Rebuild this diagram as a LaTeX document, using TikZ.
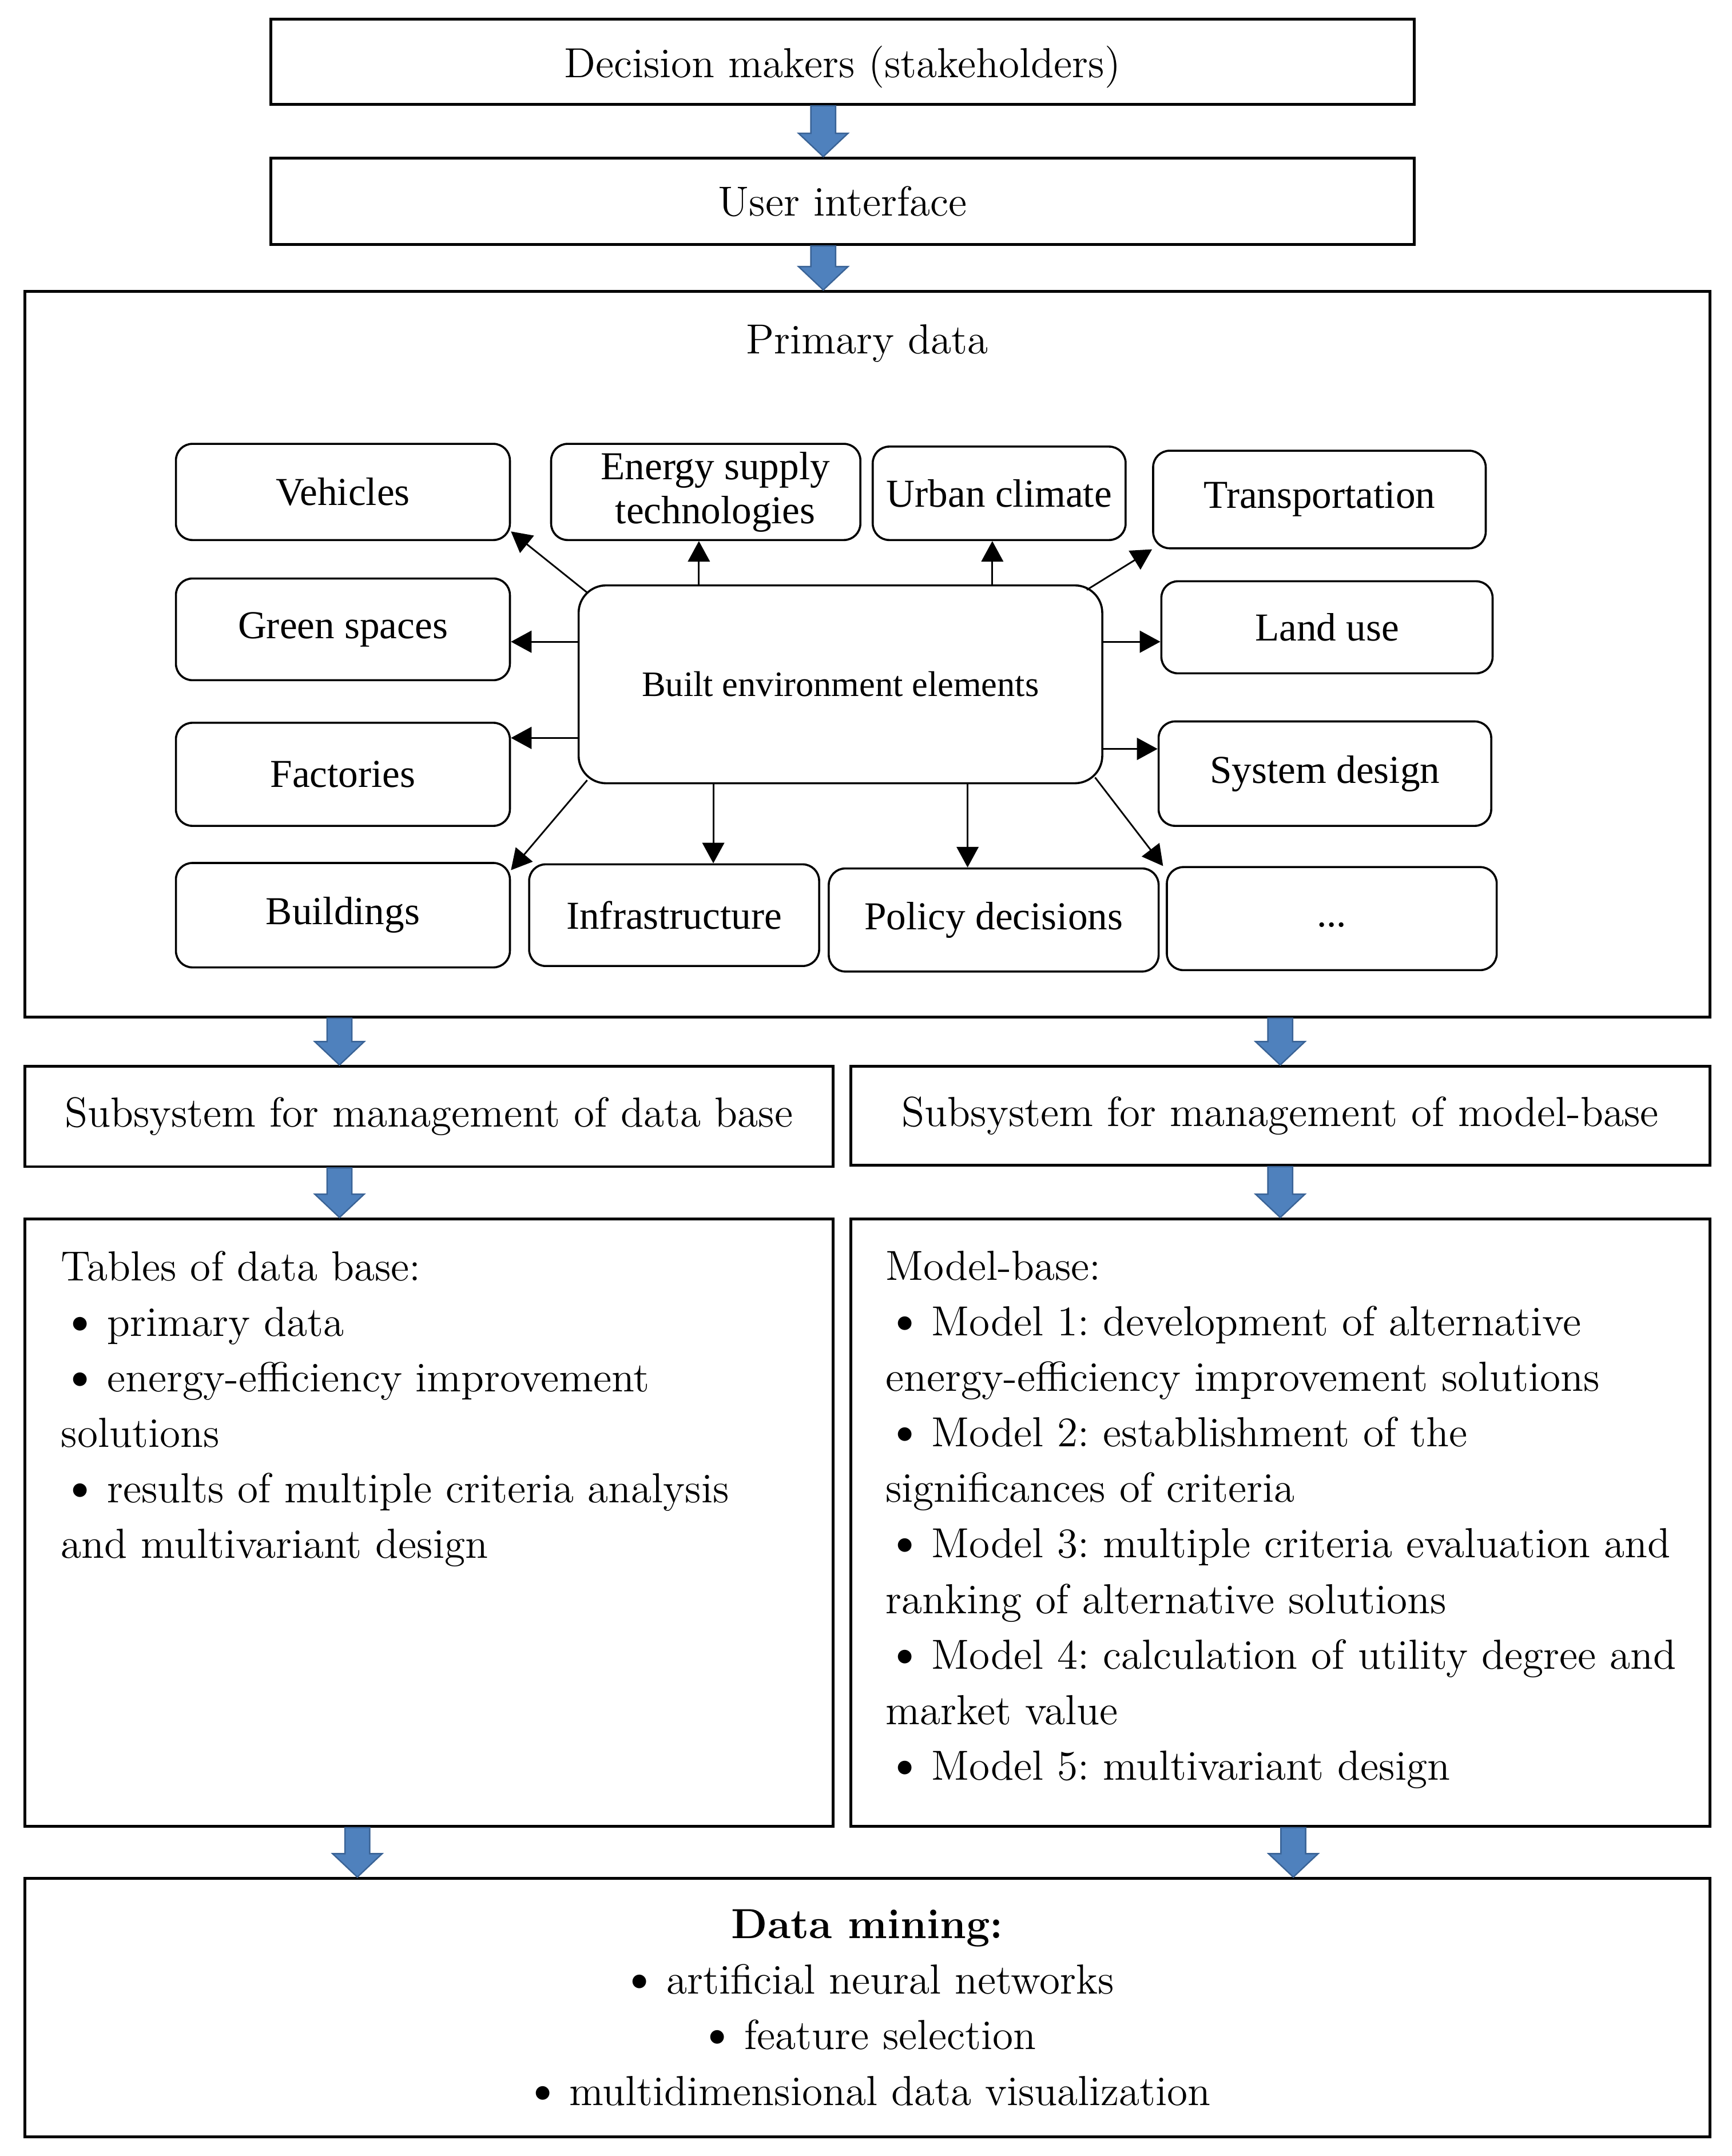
\documentclass[tikz,border=0pt]{standalone}
\usepackage{fontspec}
\usepackage{graphicx}
\setmainfont{lmroman12-regular.otf}[BoldFont=lmroman12-bold.otf]
\newfontfamily\timesfont{Liberation Serif}
\usetikzlibrary{positioning,arrows.meta,calc}
\definecolor{arrowblue}{HTML}{4F81BD}
\definecolor{arrowedge}{HTML}{3A6396}
\newcommand{\bul}{\scalebox{1.2}{\textbullet}\hspace{0.18em}}
\frenchspacing
\begin{document}
\begin{tikzpicture}[x=0.5pt, y=-0.5pt,
    box/.style = {draw, line width=1pt, inner sep=2pt, font=\fontsize{15.3}{20.2}\selectfont},
    elem/.style = {draw, rounded corners=6pt, line width=0.75pt, inner sep=1pt, align=center, font=\timesfont\fontsize{14.4}{16}\selectfont},
    hub/.style = {elem, rounded corners=10pt, font=\timesfont\fontsize{13}{15}\selectfont},
    listtext/.style = {inner sep=0pt, anchor=north west, align=left, font=\fontsize{15.3}{20.2}\selectfont},
    link/.style = {-{Triangle[length=7.5pt,width=8pt]}, line width=0.6pt},
    blockarrow/.style = {fill=arrowblue, draw=arrowedge, line width=0.5pt,
      to path={let \p1=(\tikztostart), \p2=(\tikztotarget) in
        (\x1-4.5pt,\y1) -- (\x1-4.5pt,\y2+8.5pt) -- (\x1-9pt,\y2+8.5pt) -- (\x1,\y2)
        -- (\x1+9pt,\y2+8.5pt) -- (\x1+4.5pt,\y2+8.5pt) -- (\x1+4.5pt,\y1) -- cycle}}]
  \useasboundingbox (0,0) rectangle (1260,1569);

  %top boxes
  \node[box, minimum width=416pt, minimum height=31pt, text depth=0pt] (dm) at (613,45) {Decision makers (stakeholders)};
  \node[box, minimum width=416pt, minimum height=31.5pt] (ui) [below=18.5pt of dm] {User interface};
  \node[box, minimum width=613pt, minimum height=264pt] (pd) at (631,476) {};
  \node[anchor=base, inner sep=0pt, font=\fontsize{15.3}{20.2}\selectfont] (pdtitle) at (631,257.5) {Primary data};

  %built environment
  \node[hub, minimum width=190.5pt, minimum height=72pt] (be) at (611.5,498) {Built environment elements};
  \node[elem, minimum width=121.5pt, minimum height=35pt] (veh) at (249.5,358) {Vehicles};
  \node[elem, minimum width=112.5pt, minimum height=35pt] (en) at (513.5,358) {\hspace*{7pt}Energy supply\\\hspace*{7pt}technologies};
  \node[elem, minimum width=92pt, minimum height=34pt] (uc) at (727,359) {Urban climate};
  \node[elem, minimum width=121pt, minimum height=35.5pt] (tr) at (960,363.5) {Transportation};
  \node[elem, minimum width=121.5pt, minimum height=37pt] (gs) at (249.5,458) {Green spaces};
  \node[elem, minimum width=120.5pt, minimum height=33.5pt] (lu) at (965.5,456.5) {Land use};
  \node[elem, minimum width=121.5pt, minimum height=37.5pt] (fa) at (249.5,563.5) {Factories};
  \node[elem, minimum width=121pt, minimum height=38pt] (sd) at (964,563) {System design};
  \node[elem, minimum width=121.5pt, minimum height=38pt] (bu) at (249.5,666) {Buildings};
  \node[elem, minimum width=105.5pt, minimum height=37pt] (inf) at (490.5,666) {Infrastructure};
  \node[elem, minimum width=120pt, minimum height=37.5pt] (pol) at (723,669.5) {Policy decisions};
  \node[elem, minimum width=120pt, minimum height=37.5pt, text height=6pt, text depth=0pt] (dots) at (969,668.5) {...};

  \draw[link] ([shift={(7,6)}]be.north west) -- ([shift={(0,-7)}]veh.south east);
  \draw[link] ([xshift=-2.5pt]en.south |- be.north) -- ([xshift=-2.5pt]en.south);
  \draw[link] ([xshift=-2.5pt]uc.south |- be.north) -- ([xshift=-2.5pt]uc.south);
  \draw[link] ([shift={(-12,4)}]be.north east) -- (tr.south west);
  \draw[link] ([yshift=15.5pt]be.west) -- ([yshift=15.5pt]be.west -| gs.east);
  \draw[link] ([yshift=-19.5pt]be.west) -- ([yshift=-19.5pt]be.west -| fa.east);
  \draw[link] ([yshift=15.5pt]be.east) -- ([yshift=15.5pt]be.east -| lu.west);
  \draw[link] ([yshift=-23.5pt]be.east) -- ([yshift=-23.5pt]be.east -| sd.west);
  \draw[link] ([shift={(7,-3)}]be.south west) -- ([shift={(0,6)}]bu.north east);
  \draw[link] ([xshift=14.25pt]inf.north |- be.south) -- ([xshift=14.25pt]inf.north);
  \draw[link] ([xshift=-9.5pt]pol.north |- be.south) -- ([xshift=-9.5pt]pol.north);
  \draw[link] ([shift={(-6,-5)}]be.south east) -- ([shift={(-2,0)}]dots.north west);

  %subsystems
  \node[box, minimum width=294pt, minimum height=36.5pt] (sdb) at (312,812.5) {Subsystem for management of data base};
  \node[box, minimum width=312.5pt, minimum height=36pt] (smb) at (931.5,812) {Subsystem for management of model-base};
  \node[box, minimum width=294pt, minimum height=221pt] (tab) [below=18pt of sdb] {};
  \node[box, minimum width=312.5pt, minimum height=221pt] (mb) [below=18.5pt of smb] {};
  \node[listtext] (tabtext) at ([shift={(27,24)}]tab.north west) {Tables of data base:\\
    \bul primary data\\
    \bul energy-efficiency improvement\\
    solutions\\
    \bul results of multiple criteria analysis\\
    and multivariant design};
  \node[listtext] (mbtext) at ([shift={(26,24)}]mb.north west) {Model-base:\\
    \bul Model 1: development of alternative\\
    energy-efficiency improvement solutions\\
    \bul Model 2: establishment of the\\
    significances of criteria\\
    \bul Model 3: multiple criteria evaluation and\\
    ranking of alternative solutions\\
    \bul Model 4: calculation of utility degree and\\
    market value\\
    \bul Model 5: multivariant design};

  %data mining
  \node[box, minimum width=613pt, minimum height=94pt, align=center] (mine) at (631,1461) {{\bfseries Data mining:}\\
    \bul artificial neural networks\\
    \bul feature selection\\
    \bul multidimensional data visualization};

  %block arrows
  \path[blockarrow] ([xshift=-7pt]dm.south) to ([xshift=-7pt]ui.north);
  \path[blockarrow] ([xshift=-7pt]ui.south) to ([xshift=-7pt]ui.south |- pd.north);
  \path[blockarrow] ([xshift=-32.5pt]sdb.north |- pd.south) to ([xshift=-32.5pt]sdb.north);
  \path[blockarrow] (smb.north |- pd.south) to (smb.north);
  \path[blockarrow] ([xshift=-32.5pt]sdb.south) to ([xshift=-32.5pt]tab.north);
  \path[blockarrow] (smb.south) to (mb.north);
  \path[blockarrow] ([xshift=-26pt]tab.south) to ([xshift=-26pt]tab.south |- mine.north);
  \path[blockarrow] ([xshift=4.75pt]mb.south) to ([xshift=4.75pt]mb.south |- mine.north);
\end{tikzpicture}
\end{document}
